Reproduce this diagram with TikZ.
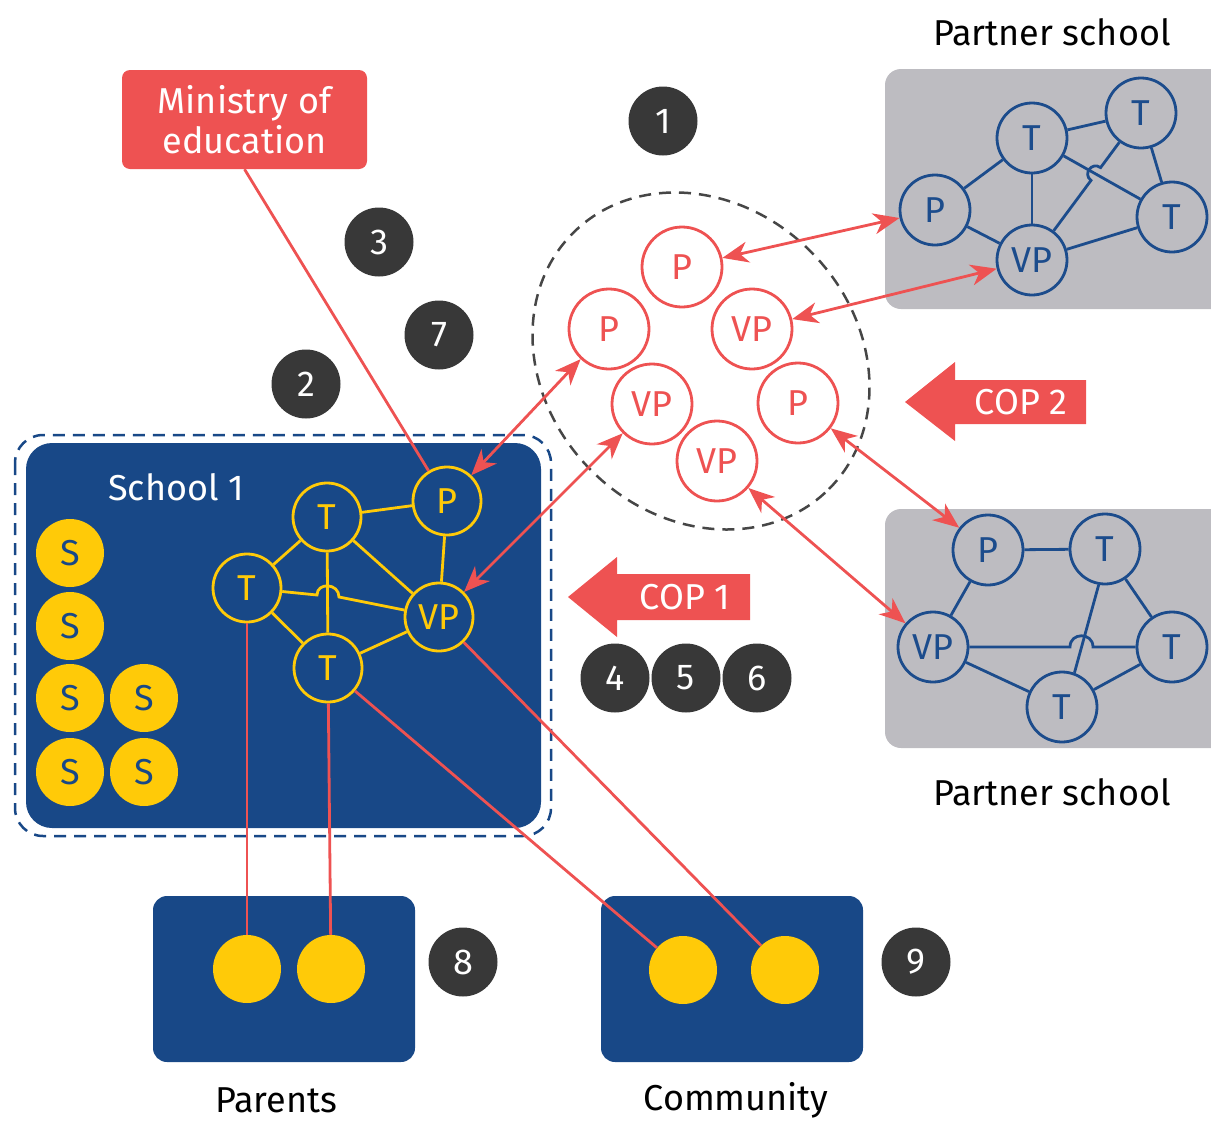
\documentclass[tikz,border=0pt]{standalone}
\usepackage{fontspec}
\setmainfont{Fira Sans}
\usetikzlibrary{arrows.meta,shapes.geometric}

\definecolor{sblue}{RGB}{24,72,135}
\definecolor{syellow}{RGB}{255,202,8}
\definecolor{cred}{RGB}{238,82,82}
\definecolor{pgray}{RGB}{189,188,193}
\definecolor{pblue}{RGB}{28,76,140}
\definecolor{numdark}{RGB}{56,56,56}
\definecolor{ringgray}{RGB}{70,70,70}

\begin{document}
\begin{tikzpicture}[x=1pt,y=-1pt,
  txt/.style={font=\fontsize{36pt}{40pt}\selectfont, inner sep=0pt},
  letter/.style={circle, inner sep=0pt, font=\fontsize{36pt}{40pt}\selectfont},
  ynode/.style={letter, draw=syellow, line width=2.8pt, fill=sblue, text=syellow, minimum size=68pt},
  snode/.style={letter, fill=syellow, text=sblue, minimum size=68pt},
  rnode/.style={letter, draw=cred, line width=2.8pt, fill=white, text=cred, minimum size=80pt},
  bnode/.style={letter, draw=pblue, line width=2.8pt, fill=pgray, text=pblue, minimum size=70pt},
  dot/.style={circle, fill=syellow, minimum size=68pt, inner sep=0pt},
  num/.style={circle, fill=numdark, text=white, minimum size=69pt, inner sep=0pt, font=\fontsize{36pt}{40pt}\selectfont},
  yline/.style={draw=syellow, line width=2.8pt},
  bline/.style={draw=pblue, line width=2.8pt},
  rline/.style={draw=cred, line width=2.8pt},
  rarrow/.style={rline, {Stealth[length=26pt,width=21pt,inset=8pt]}-{Stealth[length=26pt,width=21pt,inset=8pt]}},
  group/.style={fill=sblue, rounded corners=14pt, inner sep=0pt},
]
\useasboundingbox (0,0) rectangle (1211,1122);

% ---------- partner schools ----------
\fill[pgray, rounded corners=16pt] (885,69) rectangle (1240,309);
\fill[pgray, rounded corners=16pt] (885,509) rectangle (1240,748);
\node[txt] (ptop) at (1052,32) {Partner school};
\node[txt] (pbot) at (1052,792) {Partner school};

% upper partner network
\node[bnode] (tt1) at (1032,138) {T};
\node[bnode] (tt2) at (1141,113) {T};
\node[bnode] (tp)  at (935,210) {P};
\node[bnode] (tvp) at (1032,260) {VP};
\node[bnode] (tt3) at (1172,217) {T};
\draw[bline] (tp) -- (tt1);
\draw[bline] (tp) -- (tvp);
\draw[bline] (tt1) -- (tvp);
\draw[bline] (tt1) -- (tt2);
\draw[bline] (tt1) -- (tt3);
\draw[bline] (tt2) -- (tt3);
\draw[bline] (tvp) -- (tt3);
\draw[bline] (tvp) -- (1091.0,180.4) .. controls (1082.4,174.0) and (1092.0,161.2) .. (1100.6,167.6) -- (tt2);

% lower partner network
\node[bnode] (bp)  at (988,550) {P};
\node[bnode] (bt1) at (1105,549) {T};
\node[bnode] (bvp) at (933,647) {VP};
\node[bnode] (btr) at (1172,647) {T};
\node[bnode] (bt3) at (1062,707) {T};
\draw[bline] (bp) -- (bt1);
\draw[bline] (bp) -- (bvp);
\draw[bline] (bt1.260) -- (bt3.70);
\draw[bline] (bt1) -- (btr);
\draw[bline] (bvp) -- (bt3);
\draw[bline] (bt3) -- (btr);
\draw[bline] (bvp) -- (1070,647) .. controls (1070,632) and (1093,632) .. (1093,647) -- (btr);

% ---------- school 1 ----------
\draw[sblue, line width=2.5pt, dash pattern=on 12pt off 8pt, rounded corners=28pt] (15,435) rectangle (551,836);
\fill[sblue, rounded corners=26pt] (26,443) rectangle (541,828);
\node[txt, text=white] (school) at (176,487) {School 1};

\node[snode] (s1) at (70,553) {S};
\node[snode] (s2) at (70,626) {S};
\node[snode] (s3) at (70,698) {S};
\node[snode] (s4) at (144,698) {S};
\node[snode] (s5) at (70,772) {S};
\node[snode] (s6) at (144,772) {S};

\node[ynode] (st) at (327,517) {T};
\node[ynode] (sp) at (447,501) {P};
\node[ynode] (sl) at (247,588) {T};
\node[ynode] (sv) at (439,617) {VP};
\node[ynode] (sb) at (328,668) {T};
\draw[yline] (st) -- (sp);
\draw[yline] (sp) -- (sv);
\draw[yline] (st) -- (sl);
\draw[yline] (st) -- (sv);
\draw[yline] (st) -- (sb);
\draw[yline] (sl) -- (sb);
\draw[yline] (sb) -- (sv);
\draw[yline] (sl) -- (317,595) .. controls (317,582) and (339,583) .. (339,597) -- (sv);

% ---------- parents and community ----------
\node[group, minimum width=262pt, minimum height=166pt] (parents) at (284,979) {};
\node[group, minimum width=262pt, minimum height=166pt] (community) at (732,979) {};
\node[dot] (pa1) at (247,969) {};
\node[dot] (pa2) at (331,969) {};
\node[dot] (co1) at (683,970) {};
\node[dot] (co2) at (785,970) {};
\node[txt] (partxt) at (276,1100) {Parents};
\node[txt] (comtxt) at (736,1100) {Community};

% ---------- ministry ----------
\node[txt, fill=cred, text=white, rounded corners=8pt, minimum width=245pt, minimum height=99pt, align=center] (min) at (244.5,119.5) {Ministry of\\education};

% ---------- community of practice ring ----------
\node[ellipse, draw=ringgray, line width=2.5pt, dash pattern=on 12pt off 8pt, minimum width=362pt, minimum height=310pt, rotate=-45] (ring) at (701,361) {};
\node[rnode] (rp1) at (682,267) {P};
\node[rnode] (rp2) at (609,329) {P};
\node[rnode] (rv1) at (752,329) {VP};
\node[rnode] (rv2) at (652,404) {VP};
\node[rnode] (rp3) at (798,403) {P};
\node[rnode] (rv3) at (717,461) {VP};

% ---------- red links ----------
\draw[rline] (min.south) -- (sp);
\draw[rline] (sl) -- (pa1);
\draw[rline] (sb) -- (pa2);
\draw[rline] (sb) -- (co1);
\draw[rline] (sv) -- (co2);

\draw[rarrow] (rp1) -- (tp);
\draw[rarrow] (rv1) -- (tvp);
\draw[rarrow] (rp2) -- (sp);
\draw[rarrow] (rv2) -- (sv);
\draw[rarrow] (rp3) -- (bp);
\draw[rarrow] (rv3) -- (bvp);

% ---------- COP arrows ----------
\fill[cred] (905,402) -- (955,362) -- (955,380) -- (1086,380) -- (1086,424) -- (955,424) -- (955,441) -- cycle;
\node[txt, text=white] (cop2) at (1021,402) {COP 2};
\fill[cred] (568,597) -- (617,557) -- (617,574) -- (750,574) -- (750,620) -- (617,620) -- (617,637) -- cycle;
\node[txt, text=white] (cop1) at (685,597) {COP 1};

% ---------- numbered markers ----------
\node[num] (n1) at (663,121) {1};
\node[num] (n2) at (306,384) {2};
\node[num] (n3) at (379,242) {3};
\node[num] (n7) at (439,335) {7};
\node[num] (n4) at (615,678) {4};
\node[num] (n5) at (686,678) {5};
\node[num] (n6) at (757,678) {6};
\node[num] (n8) at (463,962) {8};
\node[num] (n9) at (916,962) {9};
\end{tikzpicture}
\end{document}
